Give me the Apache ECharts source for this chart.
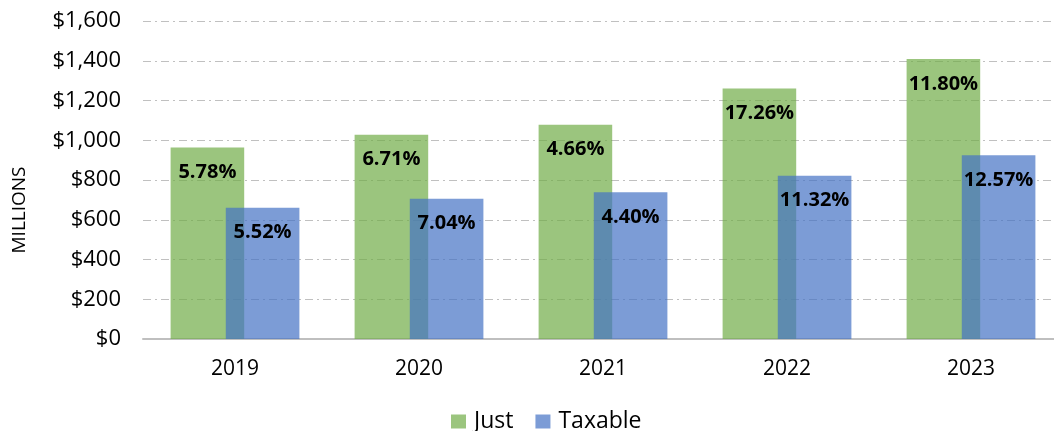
<!DOCTYPE html>
<html>
<head>
<meta charset="utf-8">
<script src="https://cdn.jsdelivr.net/npm/echarts@6/dist/echarts.min.js"></script>
<style>
html,body{margin:0;padding:0;background:#fff;}
#chart{width:1054px;height:431px;}
</style>
</head>
<body>
<div id="chart"></div>
<script>
const years = ['2019', '2020', '2021', '2022', '2023'];
const justValues = [964, 1028, 1078, 1261, 1409];
const taxableValues = [661, 706, 738, 822, 924];
const justPct = ['5.78%', '6.71%', '4.66%', '17.26%', '11.80%'];
const taxablePct = ['5.52%', '7.04%', '4.40%', '11.32%', '12.57%'];
const yTicks = [0, 200, 400, 600, 800, 1000, 1200, 1400, 1600];

const FONT = '"Open Sans", "Noto Sans", sans-serif';
const chart = echarts.init(document.getElementById('chart'), null, {renderer: 'canvas'});

function labelFor(pcts) {
  return {
    show: true,
    position: 'insideTop',
    distance: 15,
    fontFamily: FONT,
    fontWeight: 'bold',
    fontSize: 20,
    color: '#000',
    formatter: p => pcts[p.dataIndex]
  };
}

chart.setOption({
  animation: false,
  backgroundColor: '#fff',
  grid: {left: 143, width: 920, top: 21, height: 318, containLabel: false, outerBoundsMode: 'none'},
  legend: {
    data: ['Just', 'Taxable'],
    top: 405,
    left: 446,
    icon: 'rect',
    itemWidth: 15,
    itemHeight: 14,
    itemGap: 22,
    textStyle: {fontFamily: FONT, fontSize: 23, color: '#000', padding: [0, 0, 0, 3]}
  },
  graphic: [{
    type: 'text',
    x: 20, y: 210,
    rotation: Math.PI / 2,
    style: {text: 'MILLIONS', fontFamily: FONT, fontSize: 19, fill: '#000', textAlign: 'center', textVerticalAlign: 'middle'}
  }],
  xAxis: {
    type: 'category',
    data: years,
    axisLine: {show: true, lineStyle: {color: '#bfbfbf', width: 2}},
    axisTick: {show: false},
    axisLabel: {fontFamily: FONT, fontSize: 21, color: '#000', margin: 20}
  },
  yAxis: {
    type: 'value',
    min: yTicks[0],
    max: yTicks[yTicks.length - 1],
    interval: 200,
    axisLine: {show: false},
    axisTick: {show: false},
    axisLabel: {
      fontFamily: FONT, fontSize: 22, color: '#000', margin: 22,
      formatter: v => '$' + v.toLocaleString('en-US')
    },
    splitLine: {show: true, lineStyle: {color: '#c0c0c0', width: 1, type: [8, 4, 2, 4]}}
  },
  series: [
    {
      name: 'Just',
      type: 'bar',
      data: justValues,
      barWidth: '40%',
      barGap: '-25%',
      itemStyle: {color: 'rgba(112,173,71,0.7)'},
      label: labelFor(justPct)
    },
    {
      name: 'Taxable',
      type: 'bar',
      data: taxableValues,
      barWidth: '40%',
      itemStyle: {color: 'rgba(68,114,196,0.7)'},
      label: labelFor(taxablePct)
    }
  ]
});
</script>
</body>
</html>
